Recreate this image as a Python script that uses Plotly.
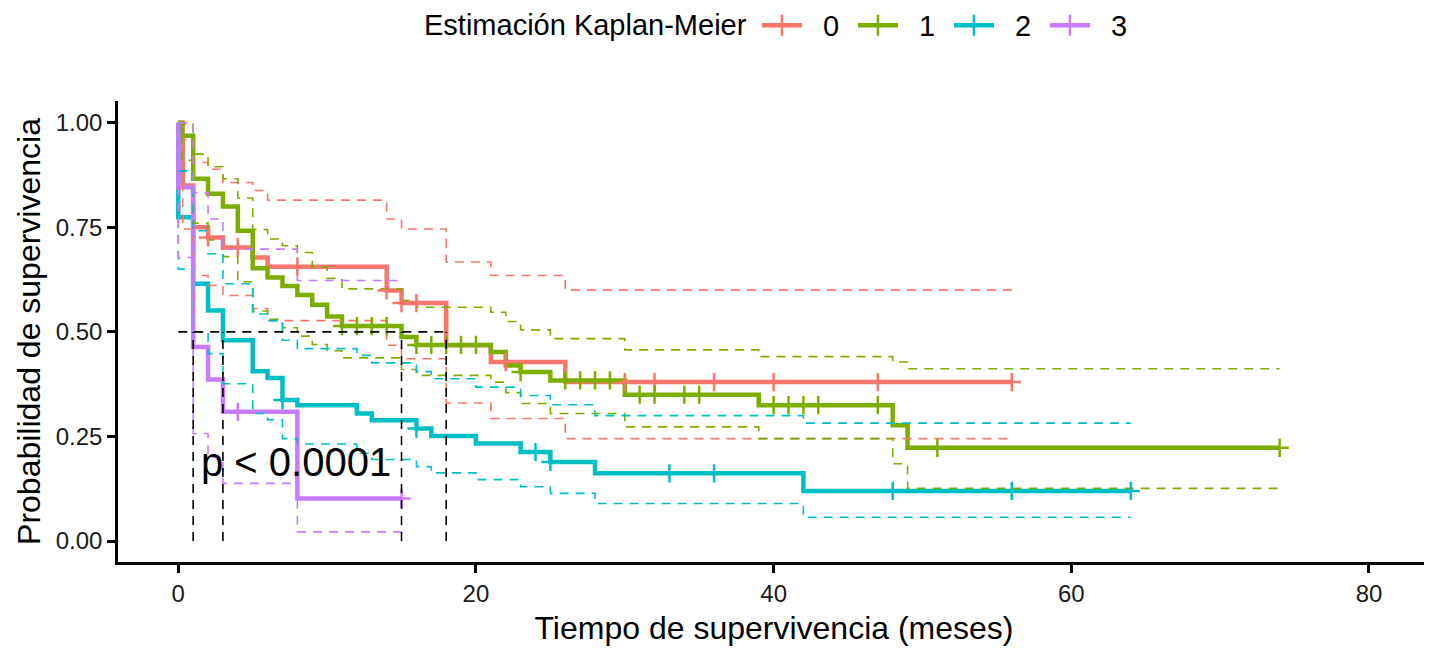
import plotly.graph_objects as go

# Curvas Kaplan-Meier por grupo: tiempos de cambio (meses), supervivencia e IC 95%
t0 = [0, 0.3, 1, 2, 3, 5, 6, 14, 15, 18, 21, 26, 56]
s0 = [1.0, 0.85, 0.750, 0.726, 0.702, 0.678, 0.656, 0.599, 0.569, 0.468, 0.428, 0.380, 0.380]
up0 = [1.0, 0.96, 0.905, 0.889, 0.857, 0.838, 0.815, 0.770, 0.746, 0.667, 0.635, 0.600, 0.600]
lo0 = [1.0, 0.746, 0.635, 0.611, 0.587, 0.556, 0.527, 0.468, 0.436, 0.330, 0.293, 0.245, 0.245]
cens0 = [2, 4, 8, 14, 15, 16, 22, 30, 32, 36, 40, 47, 56]

t1 = [0, 0.25, 1, 2, 3, 4, 5, 6, 7, 8, 9, 10, 11, 15, 16, 21, 22, 23, 25, 30, 39, 48, 49, 74]
s1 = [1.0, 0.969, 0.866, 0.830, 0.800, 0.742, 0.652, 0.630, 0.610, 0.588, 0.565, 0.537,
      0.514, 0.488, 0.469, 0.452, 0.420, 0.404, 0.384, 0.350, 0.325, 0.277, 0.223, 0.223]
up1 = [1.0, 0.997, 0.925, 0.895, 0.866, 0.82, 0.745, 0.722, 0.706, 0.69, 0.655, 0.628,
       0.603, 0.575, 0.559, 0.547, 0.525, 0.505, 0.484, 0.457, 0.441, 0.428, 0.412, 0.412]
lo1 = [1.0, 0.91, 0.76, 0.72, 0.68, 0.62, 0.55, 0.53, 0.51, 0.49, 0.47, 0.455,
       0.438, 0.41, 0.396, 0.38, 0.355, 0.329, 0.305, 0.273, 0.245, 0.185, 0.126, 0.126]
cens1 = [11, 12, 13, 14, 16, 17, 18, 19, 20, 23, 26, 27, 28, 29, 31, 32, 34, 35,
         40, 41, 42, 43, 47, 51, 74]

t2 = [0, 0, 1, 2, 3, 5, 6, 7, 8, 12, 13, 16, 17, 20, 23, 25, 28, 42, 64]
s2 = [1.0, 0.774, 0.615, 0.551, 0.480, 0.406, 0.390, 0.337, 0.325, 0.305, 0.289, 0.269,
      0.251, 0.233, 0.213, 0.189, 0.162, 0.120, 0.120]
up2 = [1.0, 0.885, 0.742, 0.687, 0.615, 0.543, 0.527, 0.48, 0.46, 0.444, 0.426, 0.405,
       0.388, 0.368, 0.348, 0.326, 0.30, 0.282, 0.282]
lo2 = [1.0, 0.65, 0.50, 0.448, 0.376, 0.305, 0.29, 0.245, 0.232, 0.21, 0.195, 0.178,
       0.163, 0.147, 0.13, 0.114, 0.09, 0.057, 0.057]
cens2 = [7, 16, 24, 25, 33, 36, 48, 56, 64]

t3 = [0, 0, 1, 2, 3, 8, 15]
s3 = [1.0, 0.846, 0.464, 0.386, 0.309, 0.102, 0.102]
up3 = [1.0, 1.0, 0.833, 0.77, 0.698, 0.623, 0.623]
lo3 = [1.0, 0.678, 0.257, 0.20, 0.138, 0.022, 0.022]
cens3 = [4, 15]

grupos = ['0', '1', '2', '3']
colores = ['#F8766D', '#7CAE00', '#00BFC4', '#C77CFF']
medianas = [18, 15, 3, 1]

curvas = [(t0, s0, up0, lo0, cens0), (t1, s1, up1, lo1, cens1),
          (t2, s2, up2, lo2, cens2), (t3, s3, up3, lo3, cens3)]


def surv_en(t, s, x):
    # valor de la curva escalonada en el tiempo x
    val = s[0]
    for ti, si in zip(t, s):
        if ti <= x:
            val = si
    return val


FONT = 'Liberation Sans, Arial, sans-serif'
DASH = '9px,7px'
fig = go.Figure()

for (t, s, up, lo, cens), col in zip(curvas, colores):
    fig.add_trace(go.Scatter(x=t, y=s, mode='lines', line=dict(color=col, width=4.5, shape='hv'),
                             showlegend=False, hoverinfo='skip'))
for (t, s, up, lo, cens), col in zip(curvas, colores):
    for band in (up, lo):
        fig.add_trace(go.Scatter(x=t, y=band, mode='lines',
                                 line=dict(color=col, width=1.6, shape='hv', dash=DASH),
                                 showlegend=False, hoverinfo='skip'))
for (t, s, up, lo, cens), col in zip(curvas, colores):
    fig.add_trace(go.Scatter(x=cens, y=[surv_en(t, s, c) for c in cens], mode='markers',
                             marker=dict(symbol='cross-thin', size=13, color=col,
                                         line=dict(width=2.5, color=col)),
                             showlegend=False, hoverinfo='skip'))

# mediana de supervivencia
fig.add_trace(go.Scatter(x=[0, max(medianas)], y=[0.5, 0.5], mode='lines',
                         line=dict(color='black', width=1.6, dash=DASH),
                         showlegend=False, hoverinfo='skip'))
for m in medianas:
    fig.add_trace(go.Scatter(x=[m, m], y=[0, 0.5], mode='lines',
                             line=dict(color='black', width=1.6, dash=DASH),
                             showlegend=False, hoverinfo='skip'))

for g, col in zip(grupos, colores):
    fig.add_trace(go.Scatter(x=[None], y=[None], mode='lines+markers', name='\u00a0\u00a0' + g,
                             line=dict(color=col, width=4.5),
                             marker=dict(symbol='cross-thin', size=15, color=col,
                                         line=dict(width=2.5, color=col))))

fig.add_annotation(x=1.4, y=0.19, text='p < 0.0001', showarrow=False, xanchor='left',
                   yanchor='middle', font=dict(size=40, color='black', family=FONT))
# título de la leyenda
fig.add_annotation(xref='paper', yref='paper', x=0.481, y=1.165, text='Estimación Kaplan-Meier',
                   showarrow=False, xanchor='right', yanchor='middle', font=dict(size=29))

fig.update_layout(
    width=1424, height=640,
    plot_bgcolor='white', paper_bgcolor='white',
    margin=dict(l=110, r=2, t=93, b=86),
    font=dict(family=FONT, color='black'),
    legend=dict(orientation='h', x=0.487, xanchor='left', yref='container', y=0.973,
                yanchor='middle', font=dict(size=29), itemwidth=40, entrywidth=41),
    xaxis=dict(range=[-4.05, 84.1], tickvals=[0, 20, 40, 60, 80], showgrid=False, zeroline=False,
               showline=True, linecolor='black', linewidth=2.5, ticks='outside', ticklen=8,
               tickwidth=2.5, tickcolor='black', tickfont=dict(size=24, color='#1a1a1a'),
               title=dict(text='Tiempo de supervivencia (meses)', font=dict(size=32), standoff=12)),
    yaxis=dict(range=[-0.05, 1.052], tickvals=[0, 0.25, 0.5, 0.75, 1.0], tickformat='.2f',
               showgrid=False, zeroline=False, showline=True, linecolor='black', linewidth=2.5,
               ticks='outside', ticklen=8, tickwidth=2.5, tickcolor='black',
               tickfont=dict(size=24, color='#1a1a1a'),
               title=dict(text='Probabilidad de supervivencia', font=dict(size=32), standoff=6)),
)

fig.write_html('out.html')
